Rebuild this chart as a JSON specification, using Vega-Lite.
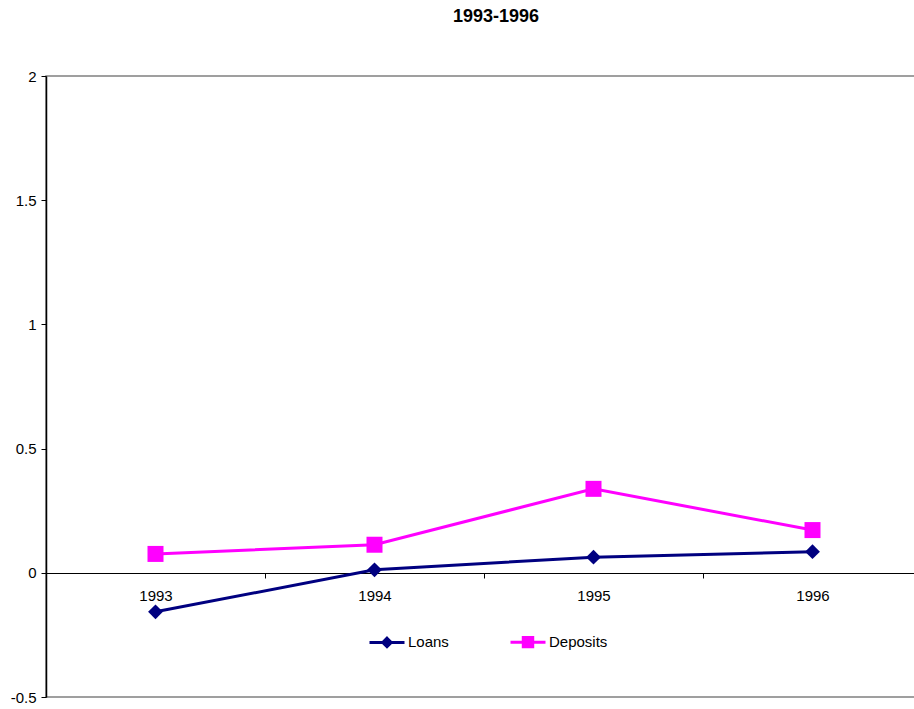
{
  "$schema": "https://vega.github.io/schema/vega-lite/v6.json",
  "autosize": {"type": "none"},
  "width": 876,
  "height": 621,
  "padding": {"left": 46, "top": 76, "right": 0, "bottom": 12},
  "background": "white",
  "title": {"text": "1993-1996", "fontSize": 18, "fontWeight": "bold", "font": "Liberation Sans", "color": "black", "anchor": "middle", "frame": "group", "offset": 43, "dx": 12},
  "config": {
    "view": {"stroke": "#808080", "strokeWidth": 1.5},
    "axis": {"labelFont": "Liberation Sans", "labelFontSize": 15, "labelColor": "black", "domainColor": "black", "tickColor": "black", "grid": false, "title": null}
  },
  "data": {"values": [
    {"year": "1993", "series": "Loans", "value": -0.157},
    {"year": "1994", "series": "Loans", "value": 0.012},
    {"year": "1995", "series": "Loans", "value": 0.063},
    {"year": "1996", "series": "Loans", "value": 0.085},
    {"year": "1993", "series": "Deposits", "value": 0.076},
    {"year": "1994", "series": "Deposits", "value": 0.113},
    {"year": "1995", "series": "Deposits", "value": 0.338},
    {"year": "1996", "series": "Deposits", "value": 0.172}
  ]},
  "encoding": {
    "x": {"field": "year", "type": "ordinal", "scale": {"type": "band", "paddingInner": 0, "paddingOuter": 0},
      "axis": {"orient": "bottom", "offset": -124, "labelAngle": 0, "tickBand": "extent", "tickSize": 5, "labelPadding": 10, "domainWidth": 1}},
    "y": {"field": "value", "type": "quantitative", "scale": {"domain": [-0.5, 2], "nice": false, "zero": false},
      "axis": {"values": [-0.5, 0, 0.5, 1, 1.5, 2], "labelExpr": "datum.value", "tickSize": 5, "labelPadding": 5, "domainWidth": 1.5}}
  },
  "layer": [
    {
      "mark": {"type": "line", "strokeWidth": 3},
      "encoding": {
        "color": {"field": "series", "type": "nominal", "scale": {"domain": ["Loans", "Deposits"], "range": ["#000080", "#FF00FF"]},
          "legend": {"orient": "none", "legendX": 322, "legendY": 547, "direction": "horizontal", "title": null,
            "symbolSize": 1225, "symbolStrokeWidth": 3, "labelFont": "Liberation Sans", "labelFontSize": 15, "labelColor": "black", "labelOffset": 2, "columnPadding": 55,
            "encode": {"symbols": {"update": {
              "shape": {"signal": "datum.value === 'Loans' ? 'M-1,0H1M0,-0.24L0.24,0L0,0.24L-0.24,0Z' : 'M-1,0H1M-0.27,-0.27H0.27V0.27H-0.27Z'"},
              "fill": {"signal": "datum.value === 'Loans' ? '#000080' : '#FF00FF'"},
              "fillOpacity": {"value": 1}
            }}}}
        }
      }
    },
    {
      "transform": [{"filter": "datum.series === 'Loans'"}],
      "mark": {"type": "point", "filled": true, "opacity": 1, "shape": "diamond", "size": 220, "color": "#000080"}
    },
    {
      "transform": [{"filter": "datum.series === 'Deposits'"}],
      "mark": {"type": "point", "filled": true, "opacity": 1, "shape": "square", "size": 256, "color": "#FF00FF"}
    }
  ]
}
